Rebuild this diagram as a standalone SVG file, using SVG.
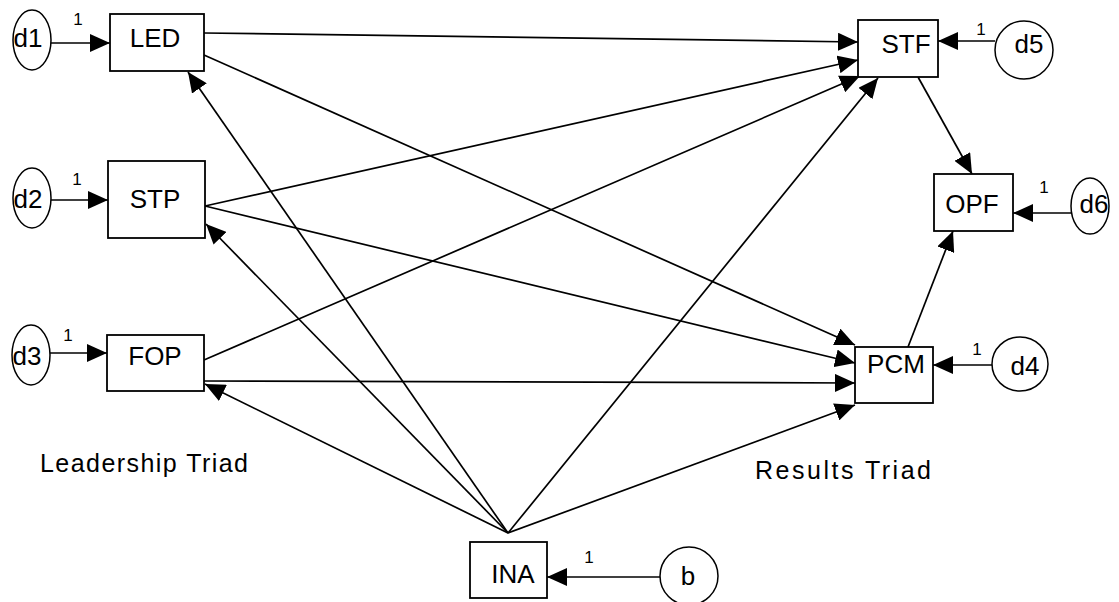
<svg xmlns="http://www.w3.org/2000/svg" width="1119" height="602" viewBox="0 0 1119 602">
<style>
.box{fill:#fff;stroke:#000;stroke-width:1.8}
.ell{fill:#fff;stroke:#000;stroke-width:1.5}
.lbl{font-family:"Liberation Sans",Arial,sans-serif;font-size:26px;fill:#000;text-anchor:middle}
.one{font-family:"Liberation Sans",Arial,sans-serif;font-size:17px;fill:#000;text-anchor:middle}
.cap{font-family:"Liberation Sans",Arial,sans-serif;font-size:25px;fill:#000}
.con line{stroke:#000;stroke-width:1.7;marker-end:url(#ah)}
</style>
<defs>
<marker id="ah" markerUnits="userSpaceOnUse" markerWidth="20" markerHeight="18" refX="20" refY="9" orient="auto">
<path d="M0,0 L20,9 L0,18 z" fill="#000"/>
</marker>
</defs>
<rect width="1119" height="602" fill="#fff"/>
<g id="connectors" class="con">
<line x1="51" y1="43" x2="110" y2="43"/>
<line x1="51" y1="200" x2="108" y2="200"/>
<line x1="50" y1="353" x2="107" y2="353"/>
<line x1="995" y1="41" x2="938" y2="41"/>
<line x1="1071" y1="213" x2="1013" y2="213"/>
<line x1="993" y1="365" x2="933" y2="365"/>
<line x1="660" y1="577" x2="547" y2="577"/>
<line x1="204" y1="33" x2="858" y2="42"/>
<line x1="204" y1="55" x2="855" y2="345"/>
<line x1="205" y1="206" x2="858" y2="60"/>
<line x1="205" y1="206" x2="855" y2="363"/>
<line x1="204" y1="360" x2="860" y2="76"/>
<line x1="204" y1="381" x2="855" y2="383"/>
<line x1="508" y1="533" x2="188" y2="72"/>
<line x1="508" y1="533" x2="206" y2="224"/>
<line x1="508" y1="533" x2="205" y2="384"/>
<line x1="508" y1="533" x2="878" y2="78"/>
<line x1="508" y1="533" x2="855" y2="405"/>
<line x1="918" y1="77" x2="972" y2="174"/>
<line x1="908" y1="347" x2="953" y2="231"/>
</g>
<g id="d1"><ellipse class="ell" cx="32" cy="40" rx="19" ry="30"/><text class="lbl" x="28" y="47">d1</text></g>
<g id="d2"><ellipse class="ell" cx="32" cy="198" rx="19" ry="30"/><text class="lbl" x="28" y="208">d2</text></g>
<g id="d3"><ellipse class="ell" cx="31" cy="355" rx="19" ry="30"/><text class="lbl" x="27" y="365">d3</text></g>
<g id="d5"><ellipse class="ell" cx="1024" cy="50" rx="29" ry="29"/><text class="lbl" x="1029" y="53">d5</text></g>
<g id="d6"><ellipse class="ell" cx="1090" cy="206" rx="19" ry="28"/><text class="lbl" x="1094" y="213">d6</text></g>
<g id="d4"><ellipse class="ell" cx="1020" cy="364" rx="28" ry="27"/><text class="lbl" x="1025" y="375">d4</text></g>
<g id="b"><ellipse class="ell" cx="689" cy="576" rx="29" ry="29"/><text class="lbl" x="688" y="585">b</text></g>
<g id="LED"><rect class="box" x="110" y="14" width="94" height="57"/><text class="lbl" x="155" y="47">LED</text></g>
<g id="STP"><rect class="box" x="108" y="161" width="97" height="77"/><text class="lbl" x="155" y="208">STP</text></g>
<g id="FOP"><rect class="box" x="107" y="335" width="97" height="56"/><text class="lbl" x="155" y="365">FOP</text></g>
<g id="STF"><rect class="box" x="858" y="20" width="80" height="57"/><text class="lbl" x="906" y="53">STF</text></g>
<g id="OPF"><rect class="box" x="934" y="174" width="79" height="57"/><text class="lbl" x="972" y="213">OPF</text></g>
<g id="PCM"><rect class="box" x="855" y="347" width="78" height="56"/><text class="lbl" x="896" y="373">PCM</text></g>
<g id="INA"><rect class="box" x="470" y="542" width="77" height="56"/><text class="lbl" x="513" y="583">INA</text></g>
<g id="labels">
<text class="one" x="78" y="25">1</text>
<text class="one" x="77" y="185">1</text>
<text class="one" x="68" y="341">1</text>
<text class="one" x="981" y="35">1</text>
<text class="one" x="1044" y="193">1</text>
<text class="one" x="977" y="355">1</text>
<text class="one" x="589" y="563">1</text>
<text class="cap" x="40" y="472" textLength="208">Leadership Triad</text>
<text class="cap" x="755" y="479" textLength="176">Results Triad</text>
</g>
</svg>
